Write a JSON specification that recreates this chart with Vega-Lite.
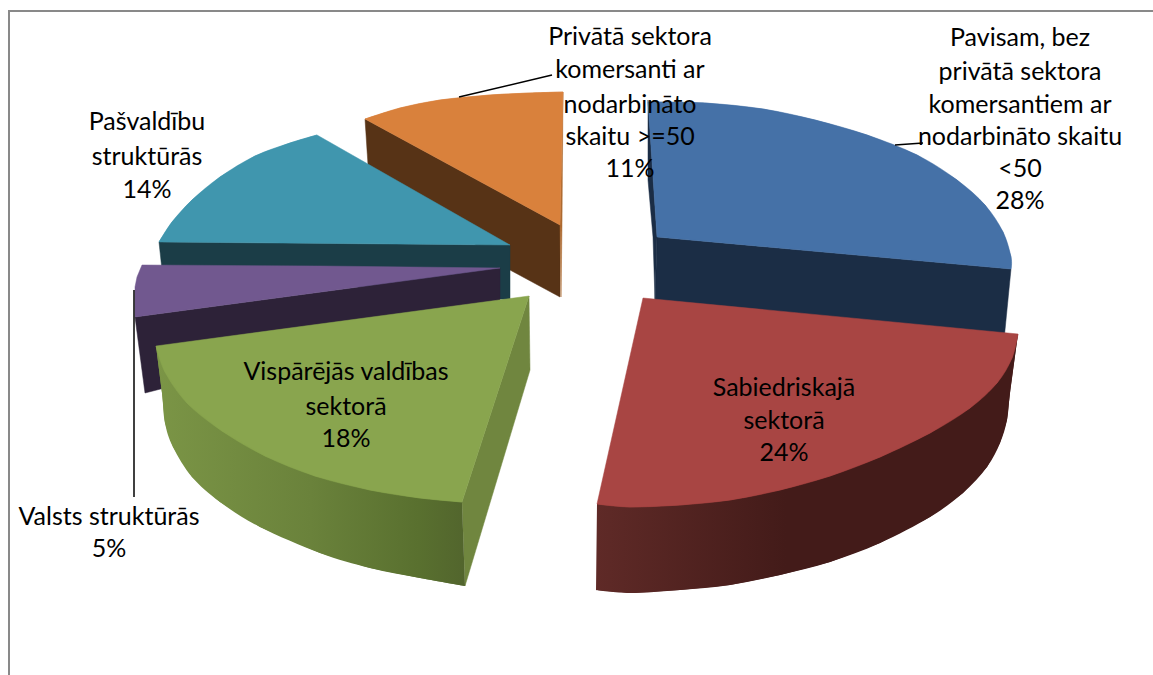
{"$schema":"https://vega.github.io/schema/vega-lite/v6.json","width":1153,"height":675,"padding":0,"autosize":{"type":"none"},"background":"white","config":{"view":{"stroke":null}},
"datasets":{"labels":[
{"label":"Pavisam, bez","px":1020,"py":38},{"label":"privātā sektora","px":1020,"py":72},{"label":"komersantiem ar","px":1020,"py":105},{"label":"nodarbināto skaitu","px":1020,"py":137},{"label":"<50","px":1020,"py":169},{"label":"28%","px":1020,"py":201},
{"label":"Privātā sektora","px":630,"py":37},{"label":"komersanti ar","px":630,"py":70},{"label":"nodarbināto","px":630,"py":105},{"label":"skaitu >=50","px":630,"py":137},{"label":"11%","px":630,"py":169},
{"label":"Pašvaldību","px":147,"py":122},{"label":"struktūrās","px":147,"py":157},{"label":"14%","px":147,"py":190},
{"label":"Vispārējās valdības","px":346,"py":372},{"label":"sektorā","px":346,"py":407},{"label":"18%","px":346,"py":439},
{"label":"Sabiedriskajā","px":784,"py":388},{"label":"sektorā","px":784,"py":421},{"label":"24%","px":784,"py":453},
{"label":"Valsts struktūrās","px":109,"py":517},{"label":"5%","px":109,"py":549}],
"shapes":[
{"shape":"frame","n":1,"px":9,"py":675},{"shape":"frame","n":2,"px":9,"py":11},{"shape":"frame","n":3,"px":1153,"py":11},
{"shape":"oside","n":1,"px":365,"py":119},{"shape":"oside","n":2,"px":560,"py":225},{"shape":"oside","n":3,"px":560,"py":297},{"shape":"oside","n":4,"px":510,"py":270},{"shape":"oside","n":5,"px":368,"py":165},{"shape":"oside","n":6,"px":365,"py":119},
{"shape":"ostrip","n":1,"px":563,"py":92},{"shape":"ostrip","n":2,"px":562,"py":225},{"shape":"ostrip","n":3,"px":561,"py":297},{"shape":"ostrip","n":4,"px":560,"py":225},{"shape":"ostrip","n":5,"px":563,"py":92},
{"shape":"oarc","n":1,"px":365,"py":119},{"shape":"oarc","n":2,"px":400,"py":108},{"shape":"oarc","n":3,"px":440,"py":100},{"shape":"oarc","n":4,"px":490,"py":95},{"shape":"oarc","n":5,"px":530,"py":93},{"shape":"oarc","n":6,"px":563,"py":92},
{"shape":"otop","n":1,"px":365,"py":119},{"shape":"otop","n":2,"px":400,"py":108},{"shape":"otop","n":3,"px":440,"py":100},{"shape":"otop","n":4,"px":490,"py":95},{"shape":"otop","n":5,"px":530,"py":93},{"shape":"otop","n":6,"px":563,"py":92},{"shape":"otop","n":7,"px":560,"py":225},{"shape":"otop","n":8,"px":365,"py":119},
{"shape":"tside","n":1,"px":159,"py":242},{"shape":"tside","n":2,"px":510,"py":245},{"shape":"tside","n":3,"px":510,"py":300},{"shape":"tside","n":4,"px":162,"py":270},{"shape":"tside","n":5,"px":159,"py":242},
{"shape":"tarc","n":1,"px":159,"py":242},{"shape":"tarc","n":2,"px":172,"py":222},{"shape":"tarc","n":3,"px":192,"py":200},{"shape":"tarc","n":4,"px":220,"py":177},{"shape":"tarc","n":5,"px":255,"py":156},{"shape":"tarc","n":6,"px":290,"py":143},{"shape":"tarc","n":7,"px":317,"py":135},
{"shape":"ttop","n":1,"px":159,"py":242},{"shape":"ttop","n":2,"px":172,"py":222},{"shape":"ttop","n":3,"px":192,"py":200},{"shape":"ttop","n":4,"px":220,"py":177},{"shape":"ttop","n":5,"px":255,"py":156},{"shape":"ttop","n":6,"px":290,"py":143},{"shape":"ttop","n":7,"px":317,"py":135},{"shape":"ttop","n":8,"px":510,"py":245},{"shape":"ttop","n":9,"px":159,"py":242},
{"shape":"pside","n":1,"px":135,"py":317},{"shape":"pside","n":2,"px":500,"py":268},{"shape":"pside","n":3,"px":500,"py":302},{"shape":"pside","n":4,"px":145,"py":393},{"shape":"pside","n":5,"px":135,"py":317},
{"shape":"ptop","n":1,"px":142,"py":265},{"shape":"ptop","n":2,"px":320,"py":266},{"shape":"ptop","n":3,"px":500,"py":268},{"shape":"ptop","n":4,"px":135,"py":317},{"shape":"ptop","n":5,"px":135,"py":287},{"shape":"ptop","n":6,"px":137,"py":277},{"shape":"ptop","n":7,"px":142,"py":265},
{"shape":"bside","n":1,"px":657,"py":237},{"shape":"bside","n":2,"px":1011,"py":269},{"shape":"bside","n":3,"px":1004,"py":340},{"shape":"bside","n":4,"px":655,"py":305},{"shape":"bside","n":5,"px":657,"py":237},
{"shape":"bstrip","n":1,"px":648,"py":100},{"shape":"bstrip","n":2,"px":648,"py":180},{"shape":"bstrip","n":3,"px":653,"py":237},{"shape":"bstrip","n":4,"px":655,"py":300},{"shape":"bstrip","n":5,"px":657,"py":237},{"shape":"bstrip","n":6,"px":648,"py":100},
{"shape":"barc","n":1,"px":648,"py":102},{"shape":"barc","n":2,"px":705,"py":103},{"shape":"barc","n":3,"px":763,"py":109},{"shape":"barc","n":4,"px":815,"py":120},{"shape":"barc","n":5,"px":867,"py":135},{"shape":"barc","n":6,"px":917,"py":155},{"shape":"barc","n":7,"px":957,"py":180},{"shape":"barc","n":8,"px":985,"py":205},{"shape":"barc","n":9,"px":1003,"py":232},{"shape":"barc","n":10,"px":1011,"py":257},{"shape":"barc","n":11,"px":1011,"py":269},
{"shape":"btop","n":1,"px":648,"py":102},{"shape":"btop","n":2,"px":705,"py":103},{"shape":"btop","n":3,"px":763,"py":109},{"shape":"btop","n":4,"px":815,"py":120},{"shape":"btop","n":5,"px":867,"py":135},{"shape":"btop","n":6,"px":917,"py":155},{"shape":"btop","n":7,"px":957,"py":180},{"shape":"btop","n":8,"px":985,"py":205},{"shape":"btop","n":9,"px":1003,"py":232},{"shape":"btop","n":10,"px":1011,"py":257},{"shape":"btop","n":11,"px":1011,"py":269},{"shape":"btop","n":12,"px":657,"py":237},{"shape":"btop","n":13,"px":648,"py":102},
{"shape":"gcut","n":1,"px":529,"py":296},{"shape":"gcut","n":2,"px":530,"py":370},{"shape":"gcut","n":3,"px":465,"py":586},{"shape":"gcut","n":4,"px":462,"py":502},{"shape":"gcut","n":5,"px":529,"py":296},
{"shape":"garc","n":1,"px":156,"py":346},{"shape":"garc","n":2,"px":162,"py":393},{"shape":"garc","n":3,"px":165,"py":423},{"shape":"garc","n":4,"px":173,"py":447},{"shape":"garc","n":5,"px":192,"py":477},{"shape":"garc","n":6,"px":220,"py":502},{"shape":"garc","n":7,"px":260,"py":527},{"shape":"garc","n":8,"px":320,"py":553},{"shape":"garc","n":9,"px":370,"py":568},{"shape":"garc","n":10,"px":420,"py":578},{"shape":"garc","n":11,"px":465,"py":586},
{"shape":"gside","n":1,"px":156,"py":346},{"shape":"gside","n":2,"px":162,"py":393},{"shape":"gside","n":3,"px":165,"py":423},{"shape":"gside","n":4,"px":173,"py":447},{"shape":"gside","n":5,"px":192,"py":477},{"shape":"gside","n":6,"px":220,"py":502},{"shape":"gside","n":7,"px":260,"py":527},{"shape":"gside","n":8,"px":320,"py":553},{"shape":"gside","n":9,"px":370,"py":568},{"shape":"gside","n":10,"px":420,"py":578},{"shape":"gside","n":11,"px":465,"py":586},{"shape":"gside","n":12,"px":462,"py":502},{"shape":"gside","n":13,"px":156,"py":346},
{"shape":"gtarc","n":1,"px":156,"py":346},{"shape":"gtarc","n":2,"px":165,"py":372},{"shape":"gtarc","n":3,"px":187,"py":403},{"shape":"gtarc","n":4,"px":222,"py":431},{"shape":"gtarc","n":5,"px":265,"py":456},{"shape":"gtarc","n":6,"px":315,"py":476},{"shape":"gtarc","n":7,"px":370,"py":490},{"shape":"gtarc","n":8,"px":420,"py":498},{"shape":"gtarc","n":9,"px":462,"py":502},
{"shape":"gtop","n":1,"px":529,"py":296},{"shape":"gtop","n":2,"px":156,"py":346},{"shape":"gtop","n":3,"px":165,"py":372},{"shape":"gtop","n":4,"px":187,"py":403},{"shape":"gtop","n":5,"px":222,"py":431},{"shape":"gtop","n":6,"px":265,"py":456},{"shape":"gtop","n":7,"px":315,"py":476},{"shape":"gtop","n":8,"px":370,"py":490},{"shape":"gtop","n":9,"px":420,"py":498},{"shape":"gtop","n":10,"px":462,"py":502},{"shape":"gtop","n":11,"px":529,"py":296},
{"shape":"rarc","n":1,"px":1018,"py":334},{"shape":"rarc","n":2,"px":1010,"py":393},{"shape":"rarc","n":3,"px":1007,"py":420},{"shape":"rarc","n":4,"px":1000,"py":443},{"shape":"rarc","n":5,"px":987,"py":467},{"shape":"rarc","n":6,"px":963,"py":493},{"shape":"rarc","n":7,"px":930,"py":517},{"shape":"rarc","n":8,"px":880,"py":543},{"shape":"rarc","n":9,"px":830,"py":562},{"shape":"rarc","n":10,"px":780,"py":575},{"shape":"rarc","n":11,"px":730,"py":585},{"shape":"rarc","n":12,"px":680,"py":590},{"shape":"rarc","n":13,"px":630,"py":593},{"shape":"rarc","n":14,"px":596,"py":590},
{"shape":"rside","n":1,"px":1018,"py":334},{"shape":"rside","n":2,"px":1010,"py":393},{"shape":"rside","n":3,"px":1007,"py":420},{"shape":"rside","n":4,"px":1000,"py":443},{"shape":"rside","n":5,"px":987,"py":467},{"shape":"rside","n":6,"px":963,"py":493},{"shape":"rside","n":7,"px":930,"py":517},{"shape":"rside","n":8,"px":880,"py":543},{"shape":"rside","n":9,"px":830,"py":562},{"shape":"rside","n":10,"px":780,"py":575},{"shape":"rside","n":11,"px":730,"py":585},{"shape":"rside","n":12,"px":680,"py":590},{"shape":"rside","n":13,"px":630,"py":593},{"shape":"rside","n":14,"px":596,"py":590},{"shape":"rside","n":15,"px":597,"py":504},{"shape":"rside","n":16,"px":1018,"py":334},
{"shape":"rtarc","n":1,"px":1018,"py":334},{"shape":"rtarc","n":2,"px":1012,"py":358},{"shape":"rtarc","n":3,"px":997,"py":383},{"shape":"rtarc","n":4,"px":970,"py":408},{"shape":"rtarc","n":5,"px":930,"py":433},{"shape":"rtarc","n":6,"px":880,"py":457},{"shape":"rtarc","n":7,"px":830,"py":476},{"shape":"rtarc","n":8,"px":780,"py":490},{"shape":"rtarc","n":9,"px":730,"py":500},{"shape":"rtarc","n":10,"px":680,"py":505},{"shape":"rtarc","n":11,"px":630,"py":507},{"shape":"rtarc","n":12,"px":597,"py":504},
{"shape":"rtop","n":1,"px":643,"py":298},{"shape":"rtop","n":2,"px":1018,"py":334},{"shape":"rtop","n":3,"px":1012,"py":358},{"shape":"rtop","n":4,"px":997,"py":383},{"shape":"rtop","n":5,"px":970,"py":408},{"shape":"rtop","n":6,"px":930,"py":433},{"shape":"rtop","n":7,"px":880,"py":457},{"shape":"rtop","n":8,"px":830,"py":476},{"shape":"rtop","n":9,"px":780,"py":490},{"shape":"rtop","n":10,"px":730,"py":500},{"shape":"rtop","n":11,"px":680,"py":505},{"shape":"rtop","n":12,"px":630,"py":507},{"shape":"rtop","n":13,"px":597,"py":504},{"shape":"rtop","n":14,"px":643,"py":298},
{"shape":"lead1","n":1,"px":895,"py":145},{"shape":"lead1","n":2,"px":923,"py":143},
{"shape":"lead2","n":1,"px":459,"py":97},{"shape":"lead2","n":2,"px":552,"py":75},
{"shape":"lead3","n":1,"px":134,"py":290},{"shape":"lead3","n":2,"px":134,"py":497}
]},
"data":{"name":"shapes"},
"encoding":{"x":{"field":"px","type":"quantitative","scale":{"domain":[0,1153],"nice":false,"zero":false},"axis":null},"y":{"field":"py","type":"quantitative","scale":{"domain":[675,0],"nice":false,"zero":false},"axis":null},"order":{"field":"n","type":"quantitative"}},
"layer":[
{"transform":[{"filter":"datum.shape==='frame'"}],"mark":{"type":"line","stroke":"#898989","strokeWidth":2}},
{"transform":[{"filter":"datum.shape==='oside'"}],"mark":{"type":"line","fill":"#573316","stroke":"#573316","strokeWidth":0.5}},
{"transform":[{"filter":"datum.shape==='ostrip'"}],"mark":{"type":"line","fill":"#ad6a31","stroke":"#ad6a31","strokeWidth":0.5}},
{"transform":[{"filter":"datum.shape==='oarc'"}],"mark":{"type":"line","interpolate":"cardinal","fill":"#D9813C","stroke":"#D9813C","strokeWidth":0.5}},
{"transform":[{"filter":"datum.shape==='otop'"}],"mark":{"type":"line","fill":"#D9813C","stroke":"#D9813C","strokeWidth":0.5}},
{"transform":[{"filter":"datum.shape==='tside'"}],"mark":{"type":"line","fill":"#1b3d47","stroke":"#1b3d47","strokeWidth":0.5}},
{"transform":[{"filter":"datum.shape==='tarc'"}],"mark":{"type":"line","interpolate":"cardinal","fill":"#4096ae","stroke":"#4096ae","strokeWidth":0.5}},
{"transform":[{"filter":"datum.shape==='ttop'"}],"mark":{"type":"line","fill":"#4096ae","stroke":"#4096ae","strokeWidth":0.5}},
{"transform":[{"filter":"datum.shape==='pside'"}],"mark":{"type":"line","fill":"#2d2238","stroke":"#2d2238","strokeWidth":0.5}},
{"transform":[{"filter":"datum.shape==='ptop'"}],"mark":{"type":"line","fill":"#71588F","stroke":"#71588F","strokeWidth":0.5}},
{"transform":[{"filter":"datum.shape==='bside'"}],"mark":{"type":"line","fill":"#1b2d45","stroke":"#1b2d45","strokeWidth":0.5}},
{"transform":[{"filter":"datum.shape==='bstrip'"}],"mark":{"type":"line","fill":"#1b2d45","stroke":"#1b2d45","strokeWidth":0.5}},
{"transform":[{"filter":"datum.shape==='barc'"}],"mark":{"type":"line","interpolate":"cardinal","fill":"#4571A7","stroke":"#4571A7","strokeWidth":0.5}},
{"transform":[{"filter":"datum.shape==='btop'"}],"mark":{"type":"line","fill":"#4571A7","stroke":"#4571A7","strokeWidth":0.5}},
{"transform":[{"filter":"datum.shape==='gcut'"}],"mark":{"type":"line","fill":"#70863f","stroke":"#70863f","strokeWidth":0.5}},
{"transform":[{"filter":"datum.shape==='garc'"}],"mark":{"type":"line","interpolate":"cardinal","strokeWidth":0,"fill":{"gradient":"linear","x1":0,"x2":1,"y1":0,"y2":0,"stops":[{"offset":0,"color":"#7b9546"},{"offset":0.5,"color":"#6a823b"},{"offset":0.85,"color":"#59702f"},{"offset":1,"color":"#52652d"}]}}},
{"transform":[{"filter":"datum.shape==='gside'"}],"mark":{"type":"line","strokeWidth":0,"fill":{"gradient":"linear","x1":0,"x2":1,"y1":0,"y2":0,"stops":[{"offset":0,"color":"#7b9546"},{"offset":0.5,"color":"#6a823b"},{"offset":0.85,"color":"#59702f"},{"offset":1,"color":"#52652d"}]}}},
{"transform":[{"filter":"datum.shape==='gtarc'"}],"mark":{"type":"line","interpolate":"cardinal","fill":"#89A54E","stroke":"#89A54E","strokeWidth":0.5}},
{"transform":[{"filter":"datum.shape==='gtop'"}],"mark":{"type":"line","fill":"#89A54E","stroke":"#89A54E","strokeWidth":0.5}},
{"transform":[{"filter":"datum.shape==='rarc'"}],"mark":{"type":"line","interpolate":"cardinal","strokeWidth":0,"fill":{"gradient":"linear","x1":0,"x2":1,"y1":0,"y2":0,"stops":[{"offset":0,"color":"#5f2a27"},{"offset":0.45,"color":"#431b19"},{"offset":1,"color":"#431b19"}]}}},
{"transform":[{"filter":"datum.shape==='rside'"}],"mark":{"type":"line","strokeWidth":0,"fill":{"gradient":"linear","x1":0,"x2":1,"y1":0,"y2":0,"stops":[{"offset":0,"color":"#5f2a27"},{"offset":0.45,"color":"#431b19"},{"offset":1,"color":"#431b19"}]}}},
{"transform":[{"filter":"datum.shape==='rtarc'"}],"mark":{"type":"line","interpolate":"cardinal","fill":"#A84543","stroke":"#A84543","strokeWidth":0.5}},
{"transform":[{"filter":"datum.shape==='rtop'"}],"mark":{"type":"line","fill":"#A84543","stroke":"#A84543","strokeWidth":0.5}},
{"transform":[{"filter":"datum.shape==='lead1'"}],"mark":{"type":"line","stroke":"#000000","strokeWidth":1.5}},
{"transform":[{"filter":"datum.shape==='lead2'"}],"mark":{"type":"line","stroke":"#000000","strokeWidth":1.5}},
{"transform":[{"filter":"datum.shape==='lead3'"}],"mark":{"type":"line","stroke":"#000000","strokeWidth":1.5}},
{"data":{"name":"labels"},"mark":{"type":"text","font":"Lato","fontSize":25,"color":"#000000","align":"center","baseline":"middle"},"encoding":{"text":{"field":"label","type":"nominal"},"order":{"value":null}}}
]}
